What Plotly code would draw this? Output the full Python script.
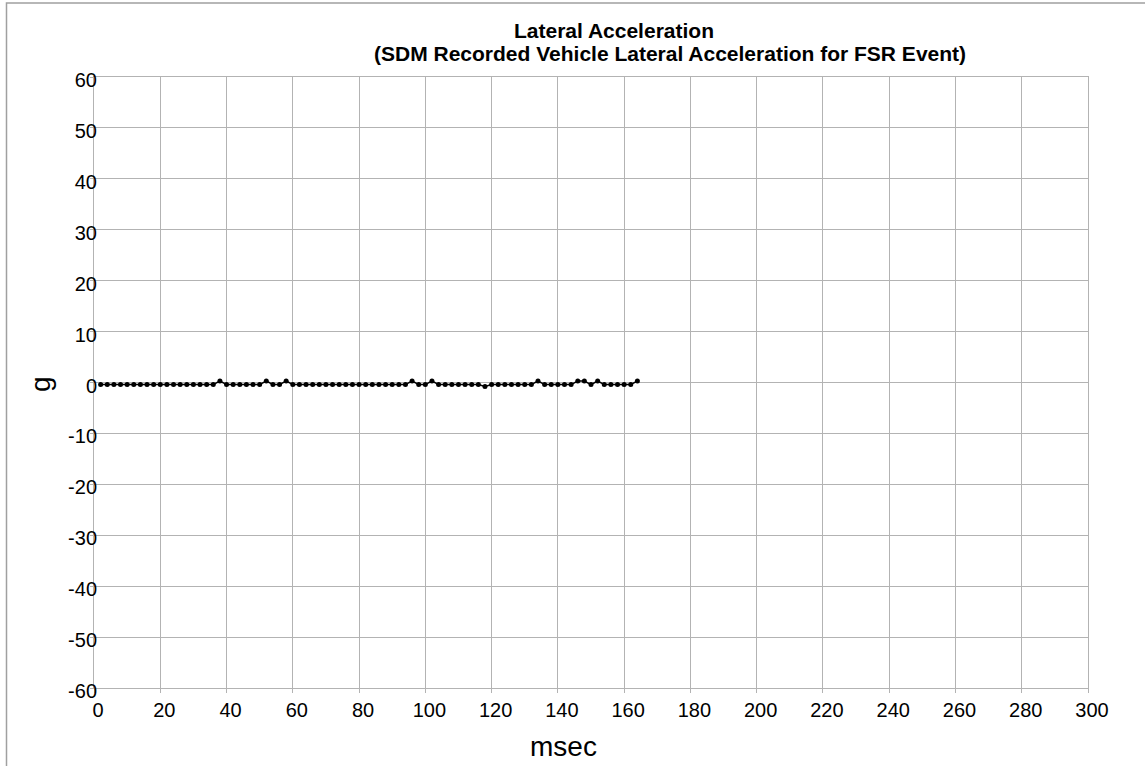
import plotly.graph_objects as go

# Time (msec) and lateral acceleration (g)
msec = list(range(2, 166, 2))
raised = {38, 52, 58, 96, 102, 134, 146, 148, 152, 164}
lowered = {118}
g_vals = []
for t in msec:
    if t in raised:
        g_vals.append(0.3)
    elif t in lowered:
        g_vals.append(-0.8)
    else:
        g_vals.append(-0.4)

x_ticks = list(range(0, 301, 20))
y_ticks = list(range(-60, 61, 10))

W, H = 1145, 766
L, R, T, B = 94, 1088, 77, 688
pw, ph = R - L, B - T


def px(x):
    return (x - L) / pw


def py(y):
    return (B - y) / ph


fig = go.Figure()
fig.add_trace(go.Scatter(
    x=msec, y=g_vals, mode="lines+markers",
    line=dict(color="#000000", width=1.5),
    marker=dict(color="#000000", size=5, symbol="circle"),
    showlegend=False,
))
# invisible carrier for the y tick labels (drawn on an overlaid axis)
fig.add_trace(go.Scatter(x=[None], y=[None], yaxis="y2", showlegend=False, hoverinfo="skip"))

grid = "#b3b3b3"
fig.update_layout(
    width=W, height=H,
    paper_bgcolor="white", plot_bgcolor="white",
    margin=dict(l=L, r=W - R, t=T, b=H - B),
    font=dict(family="Liberation Sans, Arial, sans-serif", color="#000000", size=20),
    xaxis=dict(
        range=[0, 300], tickvals=x_ticks, ticktext=[str(v) for v in x_ticks],
        showgrid=True, gridcolor=grid, gridwidth=1,
        showline=True, linecolor=grid, mirror=True,
        ticks="outside", ticklen=4, tickcolor=grid,
        zeroline=False, ticklabelshift=4,
        tickfont=dict(size=20),
    ),
    yaxis=dict(
        range=[-60, 60], tickvals=y_ticks,
        showgrid=True, gridcolor=grid, gridwidth=1,
        showline=True, linecolor=grid, mirror=True,
        ticks="outside", ticklen=3, tickcolor=grid, zeroline=False,
        showticklabels=False,
    ),
    yaxis2=dict(
        range=[-60, 60], tickvals=y_ticks, ticktext=[str(v) for v in y_ticks],
        overlaying="y", anchor="free", position=px(97), side="left",
        showgrid=False, showline=False, zeroline=False, ticks="",
        tickfont=dict(size=20), ticklabelshift=3,
    ),
    annotations=[
        dict(text="<b>Lateral Acceleration</b>", xref="paper", yref="paper",
             x=px(512), y=py(30), xanchor="left", yanchor="middle",
             showarrow=False, font=dict(size=21)),
        dict(text="<b>(SDM Recorded Vehicle Lateral Acceleration for FSR Event)</b>", xref="paper", yref="paper",
             x=px(372), y=py(54), xanchor="left", yanchor="middle",
             showarrow=False, font=dict(size=21)),
        dict(text="msec", xref="paper", yref="paper",
             x=px(563), y=py(746), xanchor="center", yanchor="middle",
             showarrow=False, font=dict(size=28)),
        dict(text="g", xref="paper", yref="paper",
             x=px(40), y=py(384), xanchor="center", yanchor="middle",
             showarrow=False, textangle=-90, font=dict(size=28)),
    ],
    shapes=[
        dict(type="rect", xref="paper", yref="paper",
             x0=px(6.5), x1=px(1300), y0=py(900), y1=py(3),
             line=dict(color="#a0a0a0", width=1.5), layer="below"),
    ],
)

fig.write_html("out.html", config={"displayModeBar": False},
               post_script="document.body.style.margin='0';document.body.style.overflow='hidden';")
